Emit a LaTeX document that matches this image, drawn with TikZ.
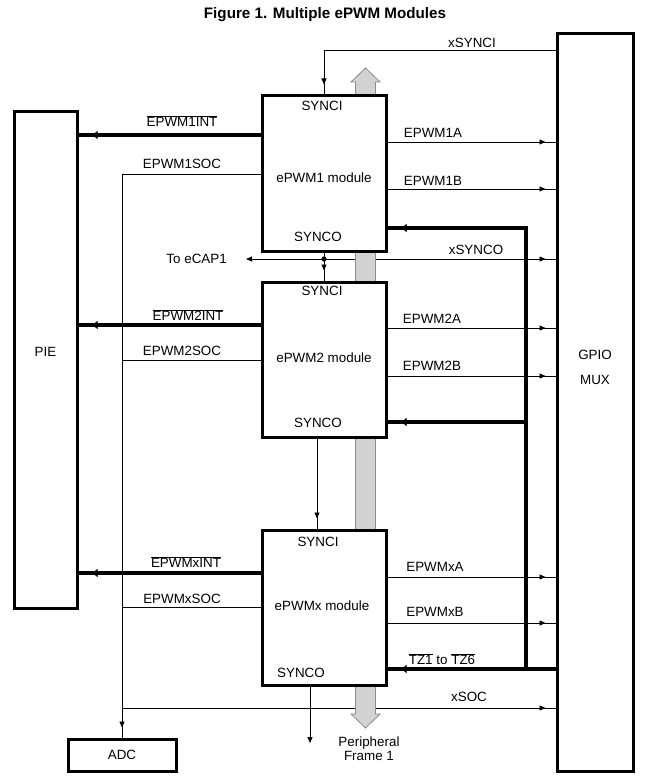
\documentclass[tikz,border=0pt]{standalone}
\usepackage{fontspec}
\setmainfont{Liberation Sans}
\usepackage{tikz}
\usetikzlibrary{arrows.meta,positioning,decorations.markings}
\definecolor{busgray}{RGB}{210,210,210}
\definecolor{busedge}{RGB}{140,140,140}
\pgfdeclarelayer{wires}
\pgfdeclarelayer{busbar}
\pgfsetlayers{wires,busbar,main}
\tikzset{
  >={Triangle[length=6pt,width=5pt]},
  lbl/.style={inner sep=1pt, font=\fontsize{13.4}{14}\selectfont},
  blk/.style={draw, line width=3pt, fill=white, inner sep=0pt, font=\fontsize{13.4}{14}\selectfont},
  modbox/.style={blk, minimum width=124pt, minimum height=155pt},
  sig/.style={line width=0.9pt},
  thickline/.style={line width=3.5pt},
  tipped/.style={postaction={decorate},
    decoration={markings, mark=at position -10pt with {\arrow{>}}}},
  inttip/.style={postaction={decorate},
    decoration={markings, mark=at position -14pt with {\arrow{Triangle[length=5pt,width=8pt,line width=0.5pt]}}}},
}

\begin{document}
\begin{tikzpicture}[x=1pt,y=-1pt]
\useasboundingbox (0,0) rectangle (649,781);

\node[font=\bfseries\fontsize{15.2}{17}\selectfont] (title) at (325,15) {Figure 1. Multiple ePWM Modules};

\node[blk, minimum width=76pt, minimum height=737pt] (gpio) at (595,402.5) {};
\node[lbl] (gpiotxt) at (595,355) {GPIO};
\node[lbl] (muxtxt) at (595,380) {MUX};
\node[blk, minimum width=63pt, minimum height=496pt] (pie) at (45.5,360) {};
\node[lbl] (pietxt) at (45.5,352) {PIE};
\node[blk, minimum width=108pt, minimum height=32pt] (adc) at (122,755) {ADC};

\node[modbox] (pwm1) at (324,173.5) {};
\node[modbox] (pwm2) at (324,359.5) {};
\node[modbox] (pwmx) at (324,607.5) {};
\node[lbl] (synci1) at (322,106) {SYNCI};
\node[lbl] (name1) at (324,178) {ePWM1 module};
\node[lbl] (synco1) at (318,237) {SYNCO};
\node[lbl] (synci2) at (322,291) {SYNCI};
\node[lbl] (name2) at (324,358) {ePWM2 module};
\node[lbl] (synco2) at (318,423) {SYNCO};
\node[lbl] (syncix) at (318,542) {SYNCI};
\node[lbl] (namex) at (322,606) {ePWMx module};
\node[lbl] (syncox) at (301,673) {SYNCO};

\begin{pgfonlayer}{busbar}
\filldraw[fill=busgray, draw=busedge, line width=0.8pt]
  (365.5,68) -- (380,82) -- (375.5,82) -- (375.5,714) -- (380,714) -- (365.5,728)
  -- (351,714) -- (355.5,714) -- (355.5,82) -- (351,82) -- cycle;
\end{pgfonlayer}

\begin{pgfonlayer}{wires}
\draw[sig,tipped] (gpio.west |- 0,50) -| (pwm1.north);
\coordinate (syncdot) at (324,259);
\draw[sig,tipped] (pwm1.south) -- (pwm2.north);
\fill (syncdot) circle (2.6pt);
\coordinate (ecapend) at (246,259);
\draw[sig,->] (syncdot) -- (ecapend);
\draw[sig,tipped] (syncdot) -- (gpio.west |- syncdot);
\draw[sig,tipped] ([xshift=-7pt]pwm2.south) -- ([xshift=-7pt]pwmx.north);
\coordinate (syncoend) at (310,743);
\draw[sig,->] (pwmx.south -| syncoend) -- (syncoend);

\draw[thickline,inttip] (pwm1.west |- 0,135) -- (pie.east |- 0,135);
\draw[thickline,inttip] (pwm2.west |- 0,325) -- (pie.east |- 0,325);
\draw[thickline,inttip] (pwmx.west |- 0,573) -- (pie.east |- 0,573);

\draw[sig,tipped] (pwm1.west |- 0,174) -| (adc.north);
\draw[sig] (pwm2.west |- 0,360) -- (adc.north |- 0,360);
\draw[sig] (pwmx.west |- 0,607) -- (adc.north |- 0,607);
\draw[sig,tipped] (adc.north |- 0,708) -- (gpio.west |- 0,708);

\foreach \m/\yy in {pwm1/142, pwm1/189, pwm2/328, pwm2/376, pwmx/577, pwmx/623}
  \draw[sig,tipped] (\m.east |- 0,\yy) -- (gpio.west |- 0,\yy);

\coordinate (tzjoin) at (526,669);
\draw[thickline,inttip] (gpio.west |- tzjoin) -- (pwmx.east |- tzjoin);
\draw[thickline,inttip] (tzjoin) |- (pwm1.east |- 0,228);
\draw[thickline,inttip] (tzjoin |- 0,422) -- (pwm2.east |- 0,422);
\end{pgfonlayer}

\node[lbl] (xsynci) at (472,43) {xSYNCI};
\node[lbl, left=18pt of ecapend] (ecap) {To eCAP1};
\node[lbl] (xsynco) at (476,250) {xSYNCO};
\node[lbl] (int1) at (182,121) {$\overline{\hbox{EPWM1INT}}$};
\node[lbl] (soc1) at (182,164) {EPWM1SOC};
\node[lbl] (int2) at (188,315) {$\overline{\hbox{EPWM2INT}}$};
\node[lbl] (soc2) at (182,351) {EPWM2SOC};
\node[lbl] (intx) at (186,562) {$\overline{\hbox{EPWMxINT}}$};
\node[lbl] (socx) at (182,599) {EPWMxSOC};
\node[lbl] (out1a) at (433,133) {EPWM1A};
\node[lbl] (out1b) at (433,181) {EPWM1B};
\node[lbl] (out2a) at (432,319) {EPWM2A};
\node[lbl] (out2b) at (432,366) {EPWM2B};
\node[lbl] (outxa) at (435,567) {EPWMxA};
\node[lbl] (outxb) at (435,612) {EPWMxB};
\node[lbl] (tz) at (442,659) {$\overline{\hbox{TZ1}}$ to $\overline{\hbox{TZ6}}$};
\node[lbl] (xsoc) at (469,697) {xSOC};
\node[lbl, align=center] (pframe) at (369,748.5) {Peripheral\\Frame 1};
\end{tikzpicture}
\end{document}
